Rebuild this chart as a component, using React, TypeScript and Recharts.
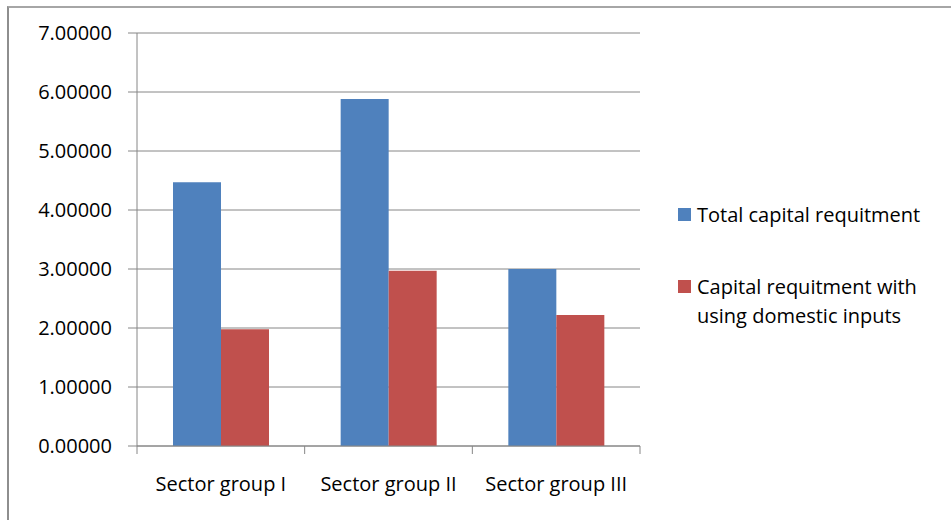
import { Bar, BarChart, CartesianGrid, Legend, XAxis, YAxis } from "recharts";

const categories = ["Sector group I", "Sector group II", "Sector group III"];
const totalCapital = [4.47, 5.88, 3.0];
const domesticCapital = [1.98, 2.97, 2.22];
const yTicks = [0, 1, 2, 3, 4, 5, 6, 7];

const seriesNames = ["Total capital requitment", "Capital requitment with using domestic inputs"];

const data = categories.map((name, i) => ({
  name,
  total: totalCapital[i],
  domestic: domesticCapital[i],
}));

const FONT = "'Open Sans', sans-serif";
const AXIS_GRAY = "#868686";

function XTick(props: any) {
  const { x, y, payload, index } = props;
  const half = payload?.offset ?? 0;
  const last = index === categories.length - 1;
  return (
    <g>
      <line x1={x - half} y1={y} x2={x - half} y2={y + 8} stroke={AXIS_GRAY} />
      {last && <line x1={x + half} y1={y} x2={x + half} y2={y + 8} stroke={AXIS_GRAY} />}
      <text x={x} y={y + 31} dy="0.71em" textAnchor="middle" fill="#000" fontSize={20} fontFamily={FONT}>
        {payload.value}
      </text>
    </g>
  );
}

function LegendBox({ payload }: any) {
  const items = [...(payload || [])].sort(
    (a: any, b: any) => seriesNames.indexOf(a.value) - seriesNames.indexOf(b.value)
  );
  return (
    <div style={{ fontFamily: FONT, fontSize: 20, color: "#000", lineHeight: "29px" }}>
      {items.map((entry: any, i: number) => (
        <div key={i} style={{ display: "flex", alignItems: "flex-start", marginBottom: i === 0 ? 43 : 0 }}>
          <span
            style={{
              display: "inline-block",
              width: 13,
              height: 13,
              background: entry.color,
              marginTop: 8,
              marginRight: 6,
              flexShrink: 0,
            }}
          />
          <span style={{ width: 240 }}>{entry.value}</span>
        </div>
      ))}
    </div>
  );
}

export default function App() {
  return (
    <div style={{ position: "absolute", left: 0, top: 0, width: 951, height: 520, overflow: "hidden", background: "#fff" }}>
      <div
        style={{
          position: "absolute",
          left: 7,
          top: 6,
          width: 1000,
          height: 600,
          borderLeft: "2px solid #8e8e8e",
          borderTop: "2px solid #a6a6a6",
        }}
      />
      <div style={{ position: "absolute", left: 0, top: 0 }}>
        <BarChart
          width={951}
          height={520}
          data={data}
          margin={{ top: 33, right: 311, bottom: 0, left: 0 }}
          barGap={0}
          barSize={48}
          style={{ fontFamily: FONT }}
        >
          <CartesianGrid vertical={false} stroke={AXIS_GRAY} />
          <XAxis
            dataKey="name"
            height={74}
            axisLine={{ stroke: AXIS_GRAY }}
            tickLine={false}
            tickSize={0}
            tickMargin={0}
            interval={0}
            tick={<XTick />}
          />
          <YAxis
            width={137}
            domain={[0, 7]}
            ticks={yTicks}
            interval={0}
            axisLine={{ stroke: AXIS_GRAY }}
            tickLine={{ stroke: AXIS_GRAY }}
            tickSize={9}
            tickMargin={16}
            tickFormatter={(v: number) => v.toFixed(5)}
            tick={{ fill: "#000", fontSize: 20, fontFamily: FONT }}
          />
          <Legend
            layout="horizontal"
            verticalAlign="middle"
            align="center"
            itemSorter={null}
            content={<LegendBox />}
            wrapperStyle={{ left: 678, top: 200, width: 270, height: "auto" }}
          />
          <Bar dataKey="total" name={seriesNames[0]} fill="#4F81BD" isAnimationActive={false} />
          <Bar dataKey="domestic" name={seriesNames[1]} fill="#C0504D" isAnimationActive={false} />
        </BarChart>
      </div>
    </div>
  );
}
